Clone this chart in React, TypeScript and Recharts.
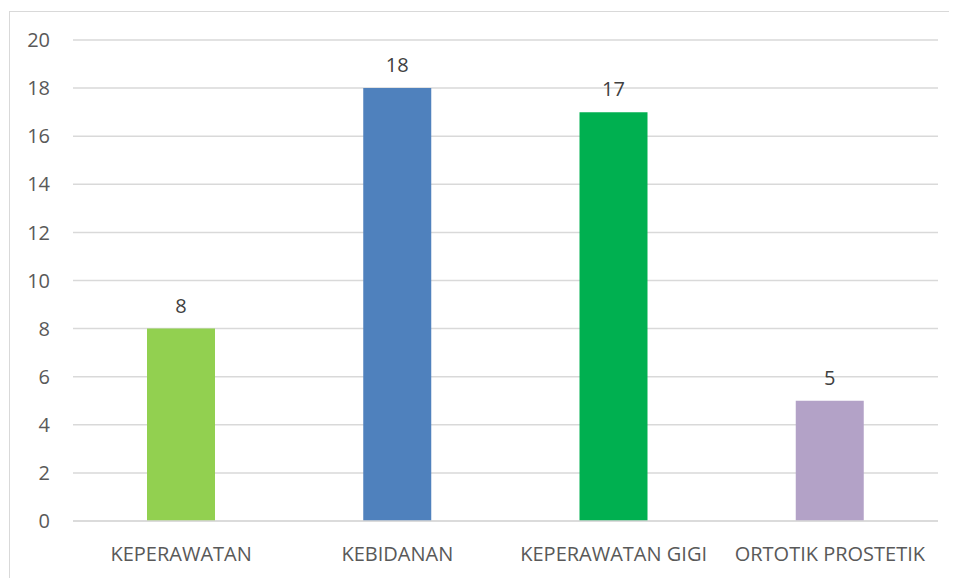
import React from 'react';
import { BarChart, Bar, XAxis, YAxis, CartesianGrid, Cell, LabelList } from 'recharts';

const categories = ['KEPERAWATAN', 'KEBIDANAN', 'KEPERAWATAN GIGI', 'ORTOTIK PROSTETIK'];
const values = [8, 18, 17, 5];
const barColors = ['#92D050', '#4F81BD', '#00B050', '#B3A2C7'];
const yTicks = [0, 2, 4, 6, 8, 10, 12, 14, 16, 18, 20];

const data = categories.map((name, i) => ({ name, value: values[i] }));

export default function App() {
    return (
        <div
            style={{
                marginTop: 3,
                marginLeft: 1,
                width: 948,
                height: 567,
                borderTop: '1px solid #d9d9d9',
                borderLeft: '1px solid #d9d9d9',
                fontFamily: '"Open Sans", sans-serif',
            }}
        >
            <BarChart
                width={948}
                height={567}
                data={data}
                margin={{ top: 28, right: 20, left: 0, bottom: 17 }}
            >
                <CartesianGrid vertical={false} stroke="#d9d9d9" strokeWidth={1.5} />
                <XAxis
                    dataKey="name"
                    height={41}
                    tick={{ fill: '#595959', fontSize: 20 }}
                    tickSize={0}
                    tickMargin={26}
                    axisLine={{ stroke: '#d9d9d9', strokeWidth: 1.5 }}
                    tickLine={false}
                    interval={0}
                />
                <YAxis
                    width={63}
                    domain={[0, 20]}
                    ticks={yTicks}
                    tick={{ fill: '#595959', fontSize: 20 }}
                    tickSize={0}
                    tickMargin={23}
                    axisLine={false}
                    tickLine={false}
                />
                <Bar dataKey="value" barSize={68} isAnimationActive={false}>
                    {data.map((d, i) => (
                        <Cell key={d.name} fill={barColors[i]} />
                    ))}
                    <LabelList dataKey="value" position="top" offset={16} fill="#404040" fontSize={20} />
                </Bar>
            </BarChart>
        </div>
    );
}
